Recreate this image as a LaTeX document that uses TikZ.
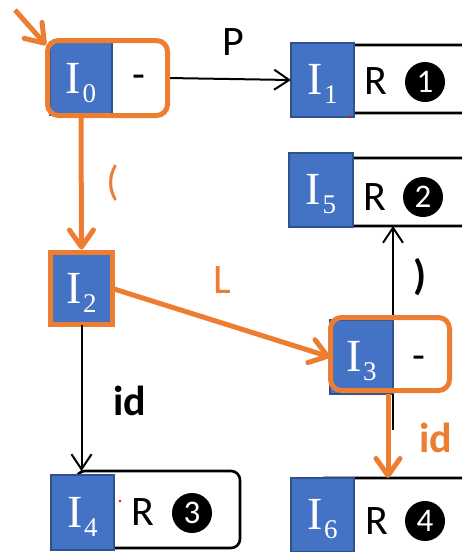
\documentclass[tikz,border=0pt]{standalone}
\usepackage{fontspec}
\newfontfamily\labelfont{Carlito}
\newfontfamily\statefont{Liberation Serif}
\usetikzlibrary{arrows.meta}
\definecolor{stateblue}{HTML}{4472C4}
\definecolor{stateedge}{HTML}{2F528F}
\definecolor{pathorange}{HTML}{ED7D31}
% state name: a capital I with a lowered index digit
\newcommand{\stlabel}[1]{I\kern1.5pt\raisebox{-9pt}{\fontsize{27}{27}\selectfont #1}}

\begin{document}
\begin{tikzpicture}[x=1pt,y=-1pt,
  every node/.style={inner sep=0pt, outer sep=0pt},
  state/.style={fill=stateblue, draw=stateedge, line width=1.2pt,
    minimum width=63pt, minimum height=74pt, text=white,
    text height=34pt, text depth=5pt,
    font=\statefont\fontsize{46}{46}\selectfont},
  rest/.style={fill=white, draw=black, line width=2.6pt,
    rounded corners=9pt, anchor=north west},
  blank/.style={fill=white, rounded corners=10pt, anchor=north west},
  frame/.style={draw=pathorange, line width=5pt, rounded corners=11pt},
  lbl/.style={font=\labelfont\fontsize{42}{42}\selectfont},
  boldlbl/.style={font=\labelfont\bfseries\fontsize{42}{42}\selectfont},
  num/.style={circle, fill=black, minimum size=40pt, text=white,
    font=\labelfont\fontsize{33}{33}\selectfont},
  barrow/.style={draw=black, line width=2pt,
    -{Straight Barb[length=15pt,width=20pt]}},
  plainline/.style={draw=black, line width=2pt},
  oarrow/.style={draw=pathorange, line width=5pt,
    -{Straight Barb[round,length=17pt,width=24pt]}},
]
\useasboundingbox (0,0) rectangle (462,552);
\clip (0,0) rectangle (462,552);

% item-set bodies
\node[blank, minimum width=120pt, minimum height=75pt] (r0) at (47.5,40.5) {};
\node[rest, minimum width=150pt, minimum height=68pt] (r1) at (330,45) {};
\node[rest, minimum width=157pt, minimum height=68pt] (r5) at (323,158) {};
\node[rest, minimum width=165pt, minimum height=90pt] (r6) at (315,478) {};
\node[rest, minimum width=164pt, minimum height=77pt] (r4) at (76,471) {};
\node[blank, minimum width=119pt, minimum height=73pt] (r3) at (330.5,317.5) {};

% state labels
\node[state, minimum width=62pt, minimum height=73pt] (i0) at (81,78.5) {\stlabel{0}};
\node[state] (i1) at (322.5,80) {\stlabel{1}};
\node[state, minimum width=64pt] (i5) at (321,190) {\stlabel{5}};
\node[state] (i6) at (322.5,515) {\stlabel{6}};
\node[state, minimum height=75pt] (i4) at (82.5,512.5) {\stlabel{4}};
\node[state] (i3) at (361.5,357) {\stlabel{3}};
\node[state, draw=pathorange, line width=5pt, minimum width=62pt,
  minimum height=72pt] (i2) at (81.5,288.5) {\stlabel{2}};

% ordinary transitions
\draw[barrow] (r0.east) -- (i1.west);
\draw[barrow] (i2.south) -- (i2.south |- r4.north);
\draw[barrow] (i3.north east) -- (i3.north east |- r5.south);
\coordinate (i3drop) at ([yshift=-36pt]i3.south east);
\draw[plainline] (i3.south east) -- (i3drop);

% highlighted states
\draw[frame] (r0.north west) rectangle (r0.south east);
\draw[frame] (r3.north west) rectangle (r3.south east);

% highlighted path
\coordinate (start) at (15,10);
\draw[oarrow] (start) -- ([shift={(-4pt,-3pt)}]i0.north west);
\draw[oarrow] (i0.south) -- ([yshift=3pt]i2.north);
\draw[oarrow] (i2.east) -- (i3.west);
\draw[oarrow] ([xshift=-5pt]i3.south east) -- ([xshift=-5pt]i3.south east |- r6.north);

% item contents
\node[lbl] (d0) at (139,82) {-};
\node[lbl] (d3) at (419,363) {-};
\node[lbl] (t1) at (376,81) {R};
\node[num] (c1) at (425,82) {1};
\node[lbl] (t5) at (375,197) {R};
\node[num] (c2) at (423,197) {2};
\node[lbl] (t4) at (143,512) {R};
\node[num] (c3) at (192,513) {3};
\node[lbl] (t6) at (377,521) {R};
\node[num] (c4) at (425,521) {4};

% transition symbols
\node[lbl] (sp) at (233,42) {P};
\node[lbl, text=pathorange] (so) at (113,183) {(};
\node[lbl, text=pathorange] (sl) at (222,280) {L};
\node[boldlbl] (sid) at (130,401) {id};
\node[boldlbl] (sc) at (420,277) {)};
\node[boldlbl, text=pathorange] (sid2) at (436,438) {id};

% selection handles
\fill[red] (350,117) circle (1.3pt);
\fill[red] (120,501) circle (1.3pt);
\end{tikzpicture}
\end{document}
